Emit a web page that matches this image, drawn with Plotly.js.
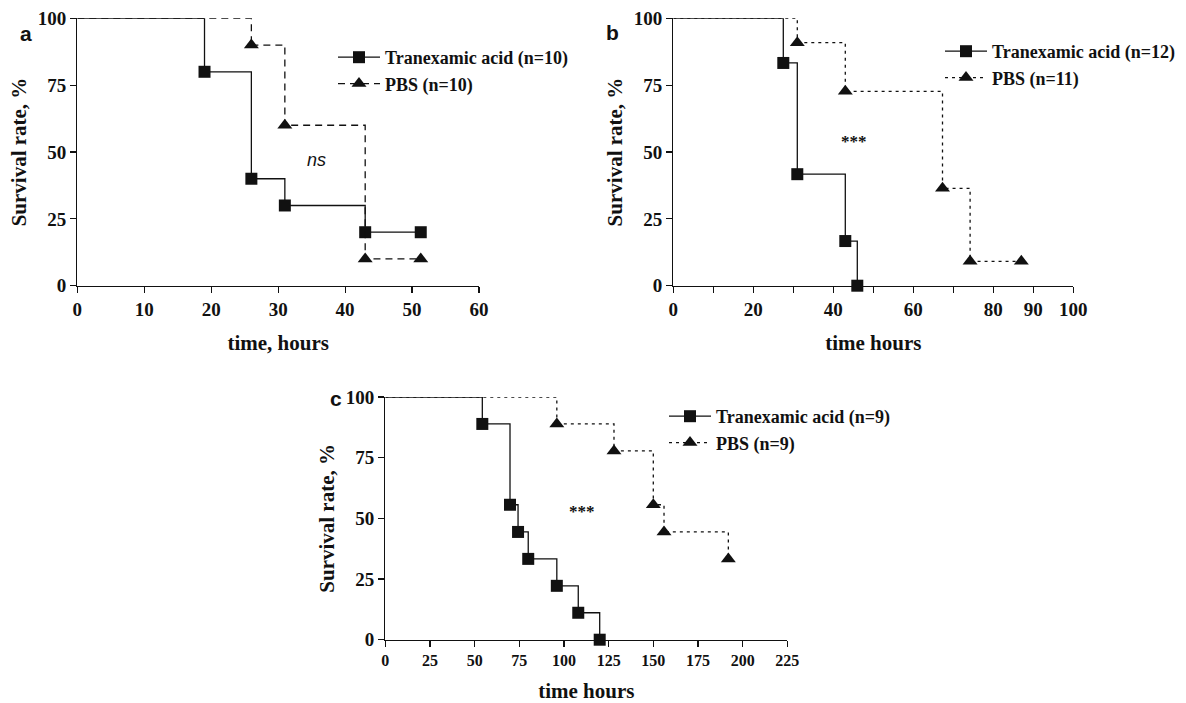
<!DOCTYPE html>
<html>
<head>
<meta charset="utf-8">
<script src="https://cdn.plot.ly/plotly-3.0.1.min.js"></script>
<style>html,body{margin:0;padding:0;background:#fff;}#chart{width:1186px;height:703px;}</style>
</head>
<body>
<div id="chart"></div>
<script>
// ---------- DATA ----------
// Panel a
const aTaTimes = [19, 26, 31, 43, 51.3];
const aTaSurv  = [80, 40, 30, 20, 20];
const aPbsTimes = [26, 31, 43, 51.3];
const aPbsSurv  = [90, 60, 10, 10];
const aTaName = "Tranexamic acid (n=10)";
const aPbsName = "PBS (n=10)";
// Panel b
const bTaTimes = [27.5, 31, 43, 46];
const bTaSurv  = [83.3, 41.7, 16.7, 0];
const bPbsTimes = [31, 43, 67.3, 74.2, 87];
const bPbsSurv  = [90.9, 72.7, 36.4, 9.1, 9.1];
const bTaName = "Tranexamic acid (n=12)";
const bPbsName = "PBS (n=11)";
// Panel c
const cTaTimes = [54.3, 69.8, 74.3, 80, 96, 108, 120];
const cTaSurv  = [88.9, 55.6, 44.4, 33.3, 22.2, 11.1, 0];
const cPbsTimes = [96, 128, 150, 156, 192];
const cPbsSurv  = [88.9, 77.8, 55.6, 44.4, 33.3];
const cTaName = "Tranexamic acid (n=9)";
const cPbsName = "PBS (n=9)";
// Axis ticks
const yTickVals = [0, 25, 50, 75, 100];
const aXTickVals = [0, 10, 20, 30, 40, 50, 60];
const bXTickVals = [0, 10, 20, 30, 40, 50, 60, 70, 80, 90, 100];
const bXTickText = ["0", "", "20", "", "40", "", "60", "", "80", "90", "100"];
const cXTickVals = [0, 25, 50, 75, 100, 125, 150, 175, 200, 225];
const startTime = 0, startSurv = 100;

// ---------- STYLE ----------
const serif = "Liberation Serif, Times New Roman, serif";
const sans = "Liberation Sans, Arial, sans-serif";
const black = "#111";
const lw = 1.3;

function curve(times, surv, name, xa, ya, dash, symbol, size, legend, group) {
  return [
    { // initial segment from 100% at time 0 to first event
      x: [startTime, times[0]], y: [startSurv, surv[0]],
      xaxis: xa, yaxis: ya, mode: "lines", line: {shape: "hv", color: black, width: lw, dash: dash},
      showlegend: false, hoverinfo: "skip", cliponaxis: false, legendgroup: group
    },
    {
      x: times, y: surv, name: name, xaxis: xa, yaxis: ya, mode: "lines+markers",
      line: {shape: "hv", color: black, width: lw, dash: dash},
      marker: {symbol: symbol, size: size, color: black},
      cliponaxis: false, legend: legend, legendgroup: group
    }
  ];
}

const longDash = "7px,5px";
const shortDash = "3px,4px";
const sq = 12, tri = 13;

const traces = [].concat(
  curve(aTaTimes, aTaSurv, aTaName, "x", "y", "solid", "square", sq, "legend", "a1"),
  curve(aPbsTimes, aPbsSurv, aPbsName, "x", "y", longDash, "triangle-up", tri, "legend", "a2"),
  curve(bTaTimes, bTaSurv, bTaName, "x2", "y2", "solid", "square", sq, "legend2", "b1"),
  curve(bPbsTimes, bPbsSurv, bPbsName, "x2", "y2", shortDash, "triangle-up", tri, "legend2", "b2"),
  curve(cTaTimes, cTaSurv, cTaName, "x3", "y3", "solid", "square", sq, "legend3", "c1"),
  curve(cPbsTimes, cPbsSurv, cPbsName, "x3", "y3", shortDash, "triangle-up", tri, "legend3", "c2")
);

const W = 1186, H = 703;
const px = v => v / W;
const py = v => 1 - v / H;

const tickFont = {family: serif, size: 19, color: black, weight: "bold"};
const tickFontC = {family: serif, size: 16, color: black, weight: "bold"};
const titleFont = {family: serif, size: 21, color: black, weight: "bold"};

function xAxis(domain, range, tickvals, ticktext, title, anchor, tf, standoff) {
  const ax = {
    domain: domain, range: range, anchor: anchor,
    showline: true, linecolor: black, linewidth: lw, mirror: false,
    ticks: "outside", ticklen: 6, tickwidth: 1.2, tickcolor: black,
    showgrid: false, zeroline: false, tickvals: tickvals,
    tickfont: tf, title: {text: title, font: titleFont, standoff: standoff},
    fixedrange: true
  };
  if (ticktext) ax.ticktext = ticktext;
  return ax;
}
function yAxis(domain, anchor) {
  return {
    domain: domain, range: [0, 100], anchor: anchor,
    showline: true, linecolor: black, linewidth: lw,
    ticks: "outside", ticklen: 6, tickwidth: 1.2, tickcolor: black,
    showgrid: false, zeroline: false, tickvals: yTickVals,
    tickfont: tickFont, title: {text: "Survival rate, %", font: titleFont, standoff: 5},
    fixedrange: true
  };
}

const legendFont = {family: serif, size: 18, color: black, weight: "bold"};
function legendAt(x, y) {
  return {x: px(x), y: py(y), xanchor: "left", yanchor: "top", font: legendFont,
          bgcolor: "rgba(0,0,0,0)", tracegroupgap: 0, itemwidth: 42,
          itemclick: false, itemdoubleclick: false};
}

const layout = {
  width: W, height: H,
  margin: {l: 0, r: 0, t: 0, b: 0},
  paper_bgcolor: "#fff", plot_bgcolor: "#fff",
  showlegend: true,
  xaxis: xAxis([px(77.3), px(479)], [0, 60], aXTickVals, null, "time, hours", "y", tickFont, 16),
  yaxis: yAxis([py(285.7), py(18.3)], "x"),
  xaxis2: xAxis([px(673.3), px(1073.3)], [0, 100], bXTickVals, bXTickText, "time hours", "y2", tickFont, 16),
  yaxis2: yAxis([py(285.7), py(18.3)], "x2"),
  xaxis3: xAxis([px(385.3), px(787.3)], [0, 225], cXTickVals, null, "time hours", "y3", tickFontC, 18),
  yaxis3: yAxis([py(639.7), py(397)], "x3"),
  legend: legendAt(333, 39),
  legend2: legendAt(940, 33),
  legend3: legendAt(664, 398),
  annotations: [
    {text: "a", xref: "paper", yref: "paper", x: px(18), y: py(20), showarrow: false,
     font: {family: sans, size: 21, color: black, weight: "bold"}},
    {text: "b", xref: "paper", yref: "paper", x: px(612), y: py(19), showarrow: false,
     font: {family: sans, size: 21, color: black, weight: "bold"}},
    {text: "c", xref: "paper", yref: "paper", x: px(328), y: py(398), showarrow: false,
     font: {family: sans, size: 21, color: black, weight: "bold"}},
    {text: "<i>ns</i>", xref: "x", yref: "y", x: 35.8, y: 47, showarrow: false,
     font: {family: sans, size: 18, color: black}},
    {text: "***", xref: "x2", yref: "y2", x: 45.2, y: 54, showarrow: false,
     font: {family: serif, size: 17, color: black, weight: "bold"}},
    {text: "***", xref: "x3", yref: "y3", x: 110, y: 53, showarrow: false,
     font: {family: serif, size: 17, color: black, weight: "bold"}}
  ]
};

Plotly.newPlot("chart", traces, layout, {displayModeBar: false, staticPlot: true});
</script>
</body>
</html>
